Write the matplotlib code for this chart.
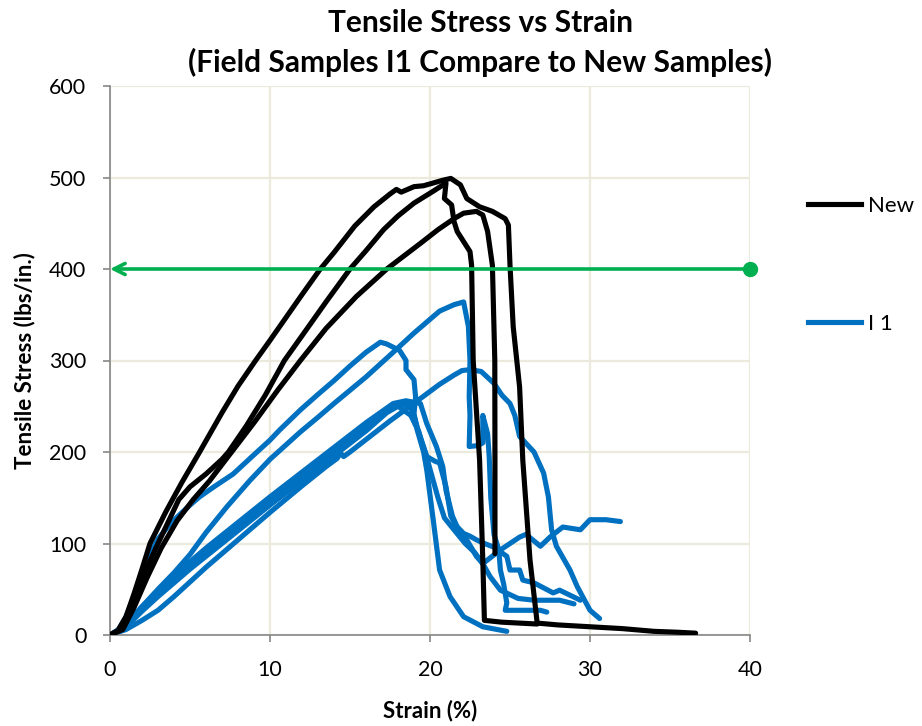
import matplotlib.pyplot as plt
from matplotlib.lines import Line2D

plt.rcParams['font.family'] = ['Lato', 'DejaVu Sans']

# --- New samples (black) ---
new_1_x = [0, 0.5, 1.0, 1.5, 2.0, 2.5, 3.5, 4.5, 5.6, 7.0, 8.0, 9.1, 10, 11, 12, 13.1, 14, 15.3,
           16.5, 17.5, 17.9, 18.2, 18.6, 19.0, 19.6, 20.2, 20.8, 21.3, 21.9, 22.3, 23.1, 23.9,
           24.7, 24.9, 25.0, 25.2, 25.6, 25.8, 26.25, 26.7, 28, 30, 32, 34, 35.5, 36.6]
new_1_y = [0, 5, 20, 45, 72, 100, 135, 167, 200, 243, 272, 300, 322, 347, 372, 399, 418, 447,
           468, 482, 487, 484, 487, 490, 491, 494, 497, 499, 492, 477, 468, 463,
           455, 448, 404, 337, 271, 191, 82, 13, 11, 9, 7, 4, 3, 2]

new_2_x = [0, 0.6, 1.2, 2.0, 3.0, 4.3, 5.0, 6.0, 7.0, 7.4, 8.5, 9.7, 10.9, 12, 13.5, 15.0, 16,
           17.1, 18, 19.0, 20.2, 21.0, 20.9, 21.35, 21.5, 21.7, 22.5, 22.6, 22.7, 23.1, 23.3,
           23.4, 24.5, 26.7]
new_2_y = [0, 5, 25, 62, 100, 148, 162, 176, 192, 200, 228, 262, 300, 327, 364, 400, 420,
           443, 458, 472, 485, 494, 477, 470, 452, 441, 419, 404, 300, 191, 82,
           16, 14, 12]

new_3_x = [0, 0.8, 1.5, 2.3, 3.2, 4.2, 5.2, 6.2, 7.6, 9.0, 10.5, 11.9, 13.5, 15.4, 17.3, 18.5,
           19.4, 20.5, 21.5, 22.1, 22.9, 23.3, 23.6, 23.9, 24.05, 24.06, 24.06]
new_3_y = [0, 6, 30, 62, 95, 125, 148, 168, 200, 232, 268, 300, 335, 370, 400, 416,
           428, 443, 455, 461, 463, 459, 441, 404, 300, 191, 89]

# --- Field samples I 1 (blue) ---
i1_a_x = [0, 1, 2, 3, 4, 5, 6, 7.3, 8.75, 10, 11.9, 13, 14, 16, 17.7, 19, 20.6, 21.5, 22.1,
          22.4, 22.5, 22.45, 22.5, 22.45, 23.0, 23.3, 23.3, 23.6, 23.7, 23.8, 24.0, 24.3, 24.4,
          24.6, 24.8, 24.7, 26.9, 27.3]
i1_a_y = [0, 11, 31, 50, 68, 88, 112, 140, 169, 192, 222, 238, 253, 282, 309, 330, 354, 361,
          364, 337, 300, 260, 240, 206, 207, 210, 240, 220, 195, 150, 110, 93, 71,
          56, 35, 27, 27, 25]

i1_b_x = [0, 0.5, 1.0, 1.5, 2.0, 2.5, 3.0, 3.6, 4.2, 5.0, 5.6, 6.5, 7.7, 9, 10, 10.6, 11.9, 13,
          14, 15, 16, 16.9, 17.3, 18.1, 18.5, 18.5, 19.0, 19.1, 19.0, 19.2, 19.6, 19.8, 20.2,
          20.6, 21.25, 22.1, 23.3, 24.8]
i1_b_y = [0, 5, 20, 42, 65, 88, 105, 118, 129, 142, 151, 162, 176, 197, 213, 224, 246, 263,
          278, 294, 309, 320, 318, 311, 300, 290, 279, 260, 242, 224, 200, 180, 126,
          71, 42, 20, 9, 4]

i1_c_x = [0, 1, 2, 3, 4, 5, 6, 8, 10, 12, 13.5, 14.2, 14.4, 14.6, 15, 16.25, 17.5, 18.75, 20.6,
          21.5, 22.0, 22.5, 23.2, 24.0, 24.5, 25.0, 25.3, 25.6, 26.5, 27.1, 27.4, 27.6, 27.9,
          28.75, 29.2, 30.0, 30.6]
i1_c_y = [0, 6, 16, 27, 42, 58, 74, 104, 134, 163, 184, 193, 199, 195, 200, 217, 234, 250, 274,
          284, 289, 290, 288, 275, 262, 253, 240, 217, 200, 177, 151, 115, 97,
          71, 53, 27, 18]

i1_d_x = [0, 0.5, 1, 1.5, 2, 3, 4, 5, 6, 8, 10, 12, 14, 16, 17.7, 18.5, 19.4, 19.8, 20.4, 20.8,
          21.0, 21.4, 21.7, 22.3, 22.9, 23.3, 24.4, 25.6, 26.0, 26.9, 27.5, 28.3, 29.4, 30.0,
          31.0, 31.9]
i1_d_y = [0, 4, 11, 21, 31, 48, 64, 80, 95, 123, 151, 178, 205, 232, 253, 256, 253, 231, 206, 184,
          158, 130, 118, 104, 86, 78, 93, 107, 110, 97, 107, 118, 115, 126,
          126, 124]

i1_e_x = [0, 1, 2, 3, 4, 5, 6, 8, 10, 12, 14, 16, 17.5, 18.3, 18.75, 19.0, 19.4, 19.8, 20.3,
          20.6, 21.0, 21.3, 21.6, 22.1, 22.5, 22.9, 23.4, 24.0, 24.8, 25.0, 25.6, 25.8, 26.5,
          27.7, 28.1, 29.4]
i1_e_y = [0, 10, 28, 45, 60, 75, 90, 118, 146, 173, 200, 228, 248, 252, 250, 240, 215, 195, 190,
          188, 162, 130, 120, 111, 108, 104, 100, 96, 86, 71, 71, 60, 57,
          46, 49, 38]

i1_f_x = [0, 1, 2, 3, 4, 5, 6, 8, 10, 12, 14, 16, 17.3, 18.0, 18.8, 19.3, 19.7, 20.1, 20.5,
          20.9, 21.5, 22.2, 22.8, 23.3, 23.75, 24.4, 25.5, 26.5, 28.1, 29.0]
i1_f_y = [0, 9, 26, 42, 57, 72, 86, 114, 142, 169, 196, 223, 243, 250, 240, 222, 200, 175, 150,
          128, 115, 100, 90, 78, 64, 49, 40, 38, 38, 34]

new_series = [(new_1_x, new_1_y), (new_2_x, new_2_y), (new_3_x, new_3_y)]
i1_series = [(i1_a_x, i1_a_y), (i1_b_x, i1_b_y), (i1_c_x, i1_c_y),
             (i1_d_x, i1_d_y), (i1_e_x, i1_e_y), (i1_f_x, i1_f_y)]

black = '#000000'
blue = '#0070C0'
green = '#00B050'
lw = 3.7

fig = plt.figure(figsize=(9.22, 7.26), dpi=100)
ax = fig.add_axes([110 / 922, 1 - 635 / 726, 640 / 922, 549 / 726])

for x, y in i1_series:
    ax.plot(x, y, color=blue, lw=lw, solid_joinstyle='round', solid_capstyle='round', zorder=2)
for x, y in new_series:
    ax.plot(x, y, color=black, lw=lw, solid_joinstyle='round', solid_capstyle='round', zorder=3)

# target line at 400 lbs/in.
ax.annotate('', xy=(0, 400), xytext=(40, 400),
            arrowprops=dict(arrowstyle='->,head_length=0.8,head_width=0.4', color=green, lw=2.6,
                            shrinkA=0, shrinkB=0), zorder=4)
ax.plot([40], [400], 'o', color=green, markersize=10, clip_on=False, zorder=5)

ax.set_xlim(0, 40)
ax.set_ylim(0, 600)
ax.set_xticks([0, 10, 20, 30, 40])
ax.set_yticks([0, 100, 200, 300, 400, 500, 600])
ax.grid(True, color='#ECEADC', lw=1.6)
ax.set_axisbelow(True)
for s in ['top', 'right']:
    ax.spines[s].set_visible(False)
for s in ['left', 'bottom']:
    ax.spines[s].set_color('#868686')
    ax.spines[s].set_linewidth(1.2)
ax.tick_params(axis='both', colors='#868686', labelcolor='black', labelsize=15.5, length=5, width=1.2)
ax.tick_params(axis='x', pad=13)
ax.tick_params(axis='y', pad=12)

ax.set_xlabel('Strain (%)', fontsize=16, fontweight='bold')
ax.set_ylabel('Tensile Stress (lbs/in.)', fontsize=16, fontweight='bold')
ax.xaxis.set_label_coords(0.5, -(700 - 635) / 549)
ax.yaxis.set_label_coords(-(110 - 35) / 640, 0.5)

fig.text(480 / 922, 1 - 23 / 726, 'Tensile Stress vs Strain', ha='center', va='center',
         fontsize=21.5, fontweight='bold')
fig.text(480 / 922, 1 - 62 / 726, '(Field Samples I1 Compare to New Samples)', ha='center',
         va='center', fontsize=21.5, fontweight='bold')

handles = [Line2D([], [], color=black, lw=lw), Line2D([], [], color=blue, lw=lw)]
fig.legend(handles, ['New', 'I 1'], loc='upper left', bbox_to_anchor=(808 / 922, 1 - 196 / 726),
           frameon=False, fontsize=16, borderpad=0, borderaxespad=0, handlelength=2.4,
           handletextpad=0.3, labelspacing=4.4)

fig.savefig('out.png', dpi=100)
